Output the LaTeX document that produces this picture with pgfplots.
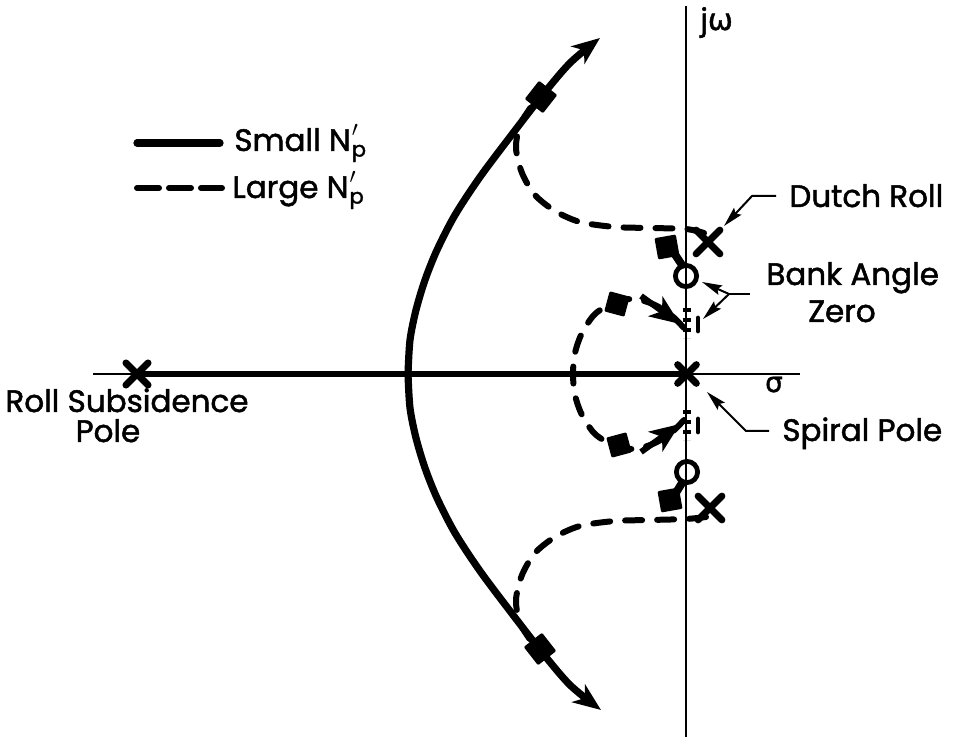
\documentclass[border=0pt]{standalone}
\usepackage{fontspec}
\setmainfont{Poppins}[FakeBold=1.6]
\newfontfamily\grk{DejaVu Sans}[FakeBold=1.2]
\usepackage{pgfplots}
\pgfplotsset{compat=1.18}
\usetikzlibrary{arrows.meta}

% N'_p with the prime stacked over the subscript
\newcommand{\Np}{N\kern0.5pt\rlap{\raisebox{0.46em}{\fontsize{10.5}{10.5}\selectfont$\prime$}}\raisebox{-0.18em}{\fontsize{10.5}{10.5}\selectfont p}}

\tikzset{
  locus/.style={black, line width=3.6pt, line cap=round, line join=round},
  dlocus/.style={black, line width=3pt, line cap=round, line join=round, dash pattern=on 8.5pt off 7.5pt},
  axisline/.style={black, line width=1.1pt},
  lead/.style={black, line width=1pt, line join=round},
  lbl/.style={font=\fontsize{15.5}{18}\selectfont, inner sep=0pt},
  tipS/.style={-{Stealth[length=14pt,width=11pt,inset=4pt]}},
  tipL/.style={-{Stealth[length=10pt,width=5pt,inset=1.5pt]}},
}

\begin{document}
\begin{tikzpicture}
\begin{axis}[
  width=477pt, height=368.5pt, scale only axis,
  xmin=0, xmax=954, ymin=0, ymax=737, y dir=reverse,
  hide axis, clip=false,
]

% s-plane axes
\addplot[axisline] coordinates {(686,6) (686,737)};
\addplot[axisline] coordinates {(93,374) (800,374)};

% real-axis locus between the roll subsidence and spiral poles
\addplot[black, line width=2.8pt] coordinates {(137,374) (686,374)};

% small N'_p: branches leaving the real axis
\addplot[locus, smooth, tipS] coordinates {
  (408,374) (410,340) (416,310) (425,280) (437,250) (455,215)
  (480,177) (510,137) (541,97) (570,63) (600,38)};
\addplot[locus, smooth, tipS] coordinates {
  (408,374) (410,408) (416,438) (425,468) (437,498) (455,533)
  (480,571) (510,611) (541,651) (570,685) (601,710)};

% large N'_p: dutch roll branches
\addplot[dlocus, smooth] coordinates {
  (704,233) (686,229) (650,228) (615,227) (580,222) (555,211)
  (535,195) (522,173) (516,148) (520,125) (531,107)};
\addplot[dlocus, smooth] coordinates {
  (706,517) (686,519) (650,520) (615,521) (580,526) (555,537)
  (535,553) (522,575) (516,600) (520,623) (531,641)};

% large N'_p: branches from the real-axis breakaway
\addplot[dlocus, smooth] coordinates {
  (684,328) (672,316) (655,305) (635,299) (615,302) (595,314)
  (582,333) (575,353) (573,374) (575,395) (582,415) (595,434)
  (615,446) (635,449) (655,443) (672,432) (684,420)};

% direction arrows on the breakaway branches
\addplot[black, line width=3pt, -{Stealth[length=15pt,width=12pt,inset=4pt]}] coordinates {(641,296) (680,324)};
\addplot[black, line width=3pt, -{Stealth[length=15pt,width=12pt,inset=4pt]}] coordinates {(641,452) (680,424)};

% short dashed segments along the j-omega axis
\addplot[black, line width=4pt, dash pattern=on 2.2pt off 2.8pt] coordinates {(687,308) (687,338)};
\addplot[black, line width=4pt, dash pattern=on 2.2pt off 2.8pt] coordinates {(687,410) (687,440)};
\addplot[black, line width=2.4pt, line cap=round] coordinates {(698,318) (698,331)};
\addplot[black, line width=2.4pt, line cap=round] coordinates {(698,419) (698,432)};

% dutch roll branches heading to the bank angle zeros
\addplot[black, line width=4pt, line cap=round] coordinates {(672,250) (682,265)};
\addplot[black, line width=4pt, line cap=round] coordinates {(674,496) (682,483)};

% gain markers on the solid branches
\addplot[only marks, mark=square*, mark size=5.2pt, mark options={rotate=52, line join=round, line width=1.2pt}] coordinates {(541,97)};
\addplot[only marks, mark=square*, mark size=5.2pt, mark options={rotate=-52, line join=round, line width=1.2pt}] coordinates {(540,649)};

% gain markers on the dashed branches
\addplot[only marks, mark=square*, mark size=4.8pt, mark options={rotate=10, line join=round, line width=1.2pt}] coordinates {(667,247) (670,500)};
\addplot[only marks, mark=square*, mark size=4.6pt, mark options={rotate=-15, line join=round, line width=1.2pt}] coordinates {(617,304)};
\addplot[only marks, mark=square*, mark size=4.6pt, mark options={rotate=15, line join=round, line width=1.2pt}] coordinates {(619,445)};

% poles
\addplot[only marks, mark=x, mark size=8.4pt, mark options={line width=3.5pt, line cap=round}] coordinates {(708,242) (710,508)};
\addplot[only marks, mark=x, mark size=7.8pt, mark options={line width=3.5pt, line cap=round}] coordinates {(137,374)};
\addplot[only marks, mark=x, mark size=6.6pt, mark options={line width=3.5pt, line cap=round}] coordinates {(687,374)};

% bank angle zeros
\addplot[only marks, mark=o, mark size=5.3pt, mark options={line width=2.4pt}] coordinates {(686,276) (687,472)};

% key
\addplot[locus] coordinates {(137,143) (220,143)};
\addplot[dlocus, dash pattern=on 11pt off 5pt] coordinates {(137,188) (222,188)};
\node[lbl, anchor=base west] at (axis cs:234,151) {Small \Np};
\node[lbl, anchor=base west] at (axis cs:232,198) {Large \Np};

% axis names
\node[inner sep=0pt, anchor=base west, font=\fontsize{15}{18}\selectfont] at (axis cs:700,30) {j{\grk ω}};
\node[inner sep=0pt, anchor=base, font=\fontsize{14}{18}\selectfont\grk] at (axis cs:774,392) {σ};

% annotations
\node[lbl, anchor=base west] at (axis cs:789,207) {Dutch Roll};
\addplot[lead, tipL] coordinates {(776,196) (752,196) (724,226)};

\node[lbl, anchor=base west] at (axis cs:766,285) {Bank Angle};
\node[lbl, anchor=base] at (axis cs:842,322) {Zero};
\addplot[lead] coordinates {(750,294) (729,294)};
\addplot[lead, tipL] coordinates {(729,294) (702,282)};
\addplot[lead, tipL] coordinates {(729,294) (703,319)};

\node[lbl, anchor=base west] at (axis cs:782,441) {Spiral Pole};
\addplot[lead, tipL] coordinates {(769,431) (746,431) (707,392)};

\node[lbl, anchor=base] at (axis cs:127,412) {Roll Subsidence};
\node[lbl, anchor=base] at (axis cs:108,442) {Pole};

\end{axis}
% the page is exactly the plotting area
\pgfresetboundingbox
\useasboundingbox (current axis.south west) rectangle (current axis.north east);
\end{tikzpicture}
\end{document}
